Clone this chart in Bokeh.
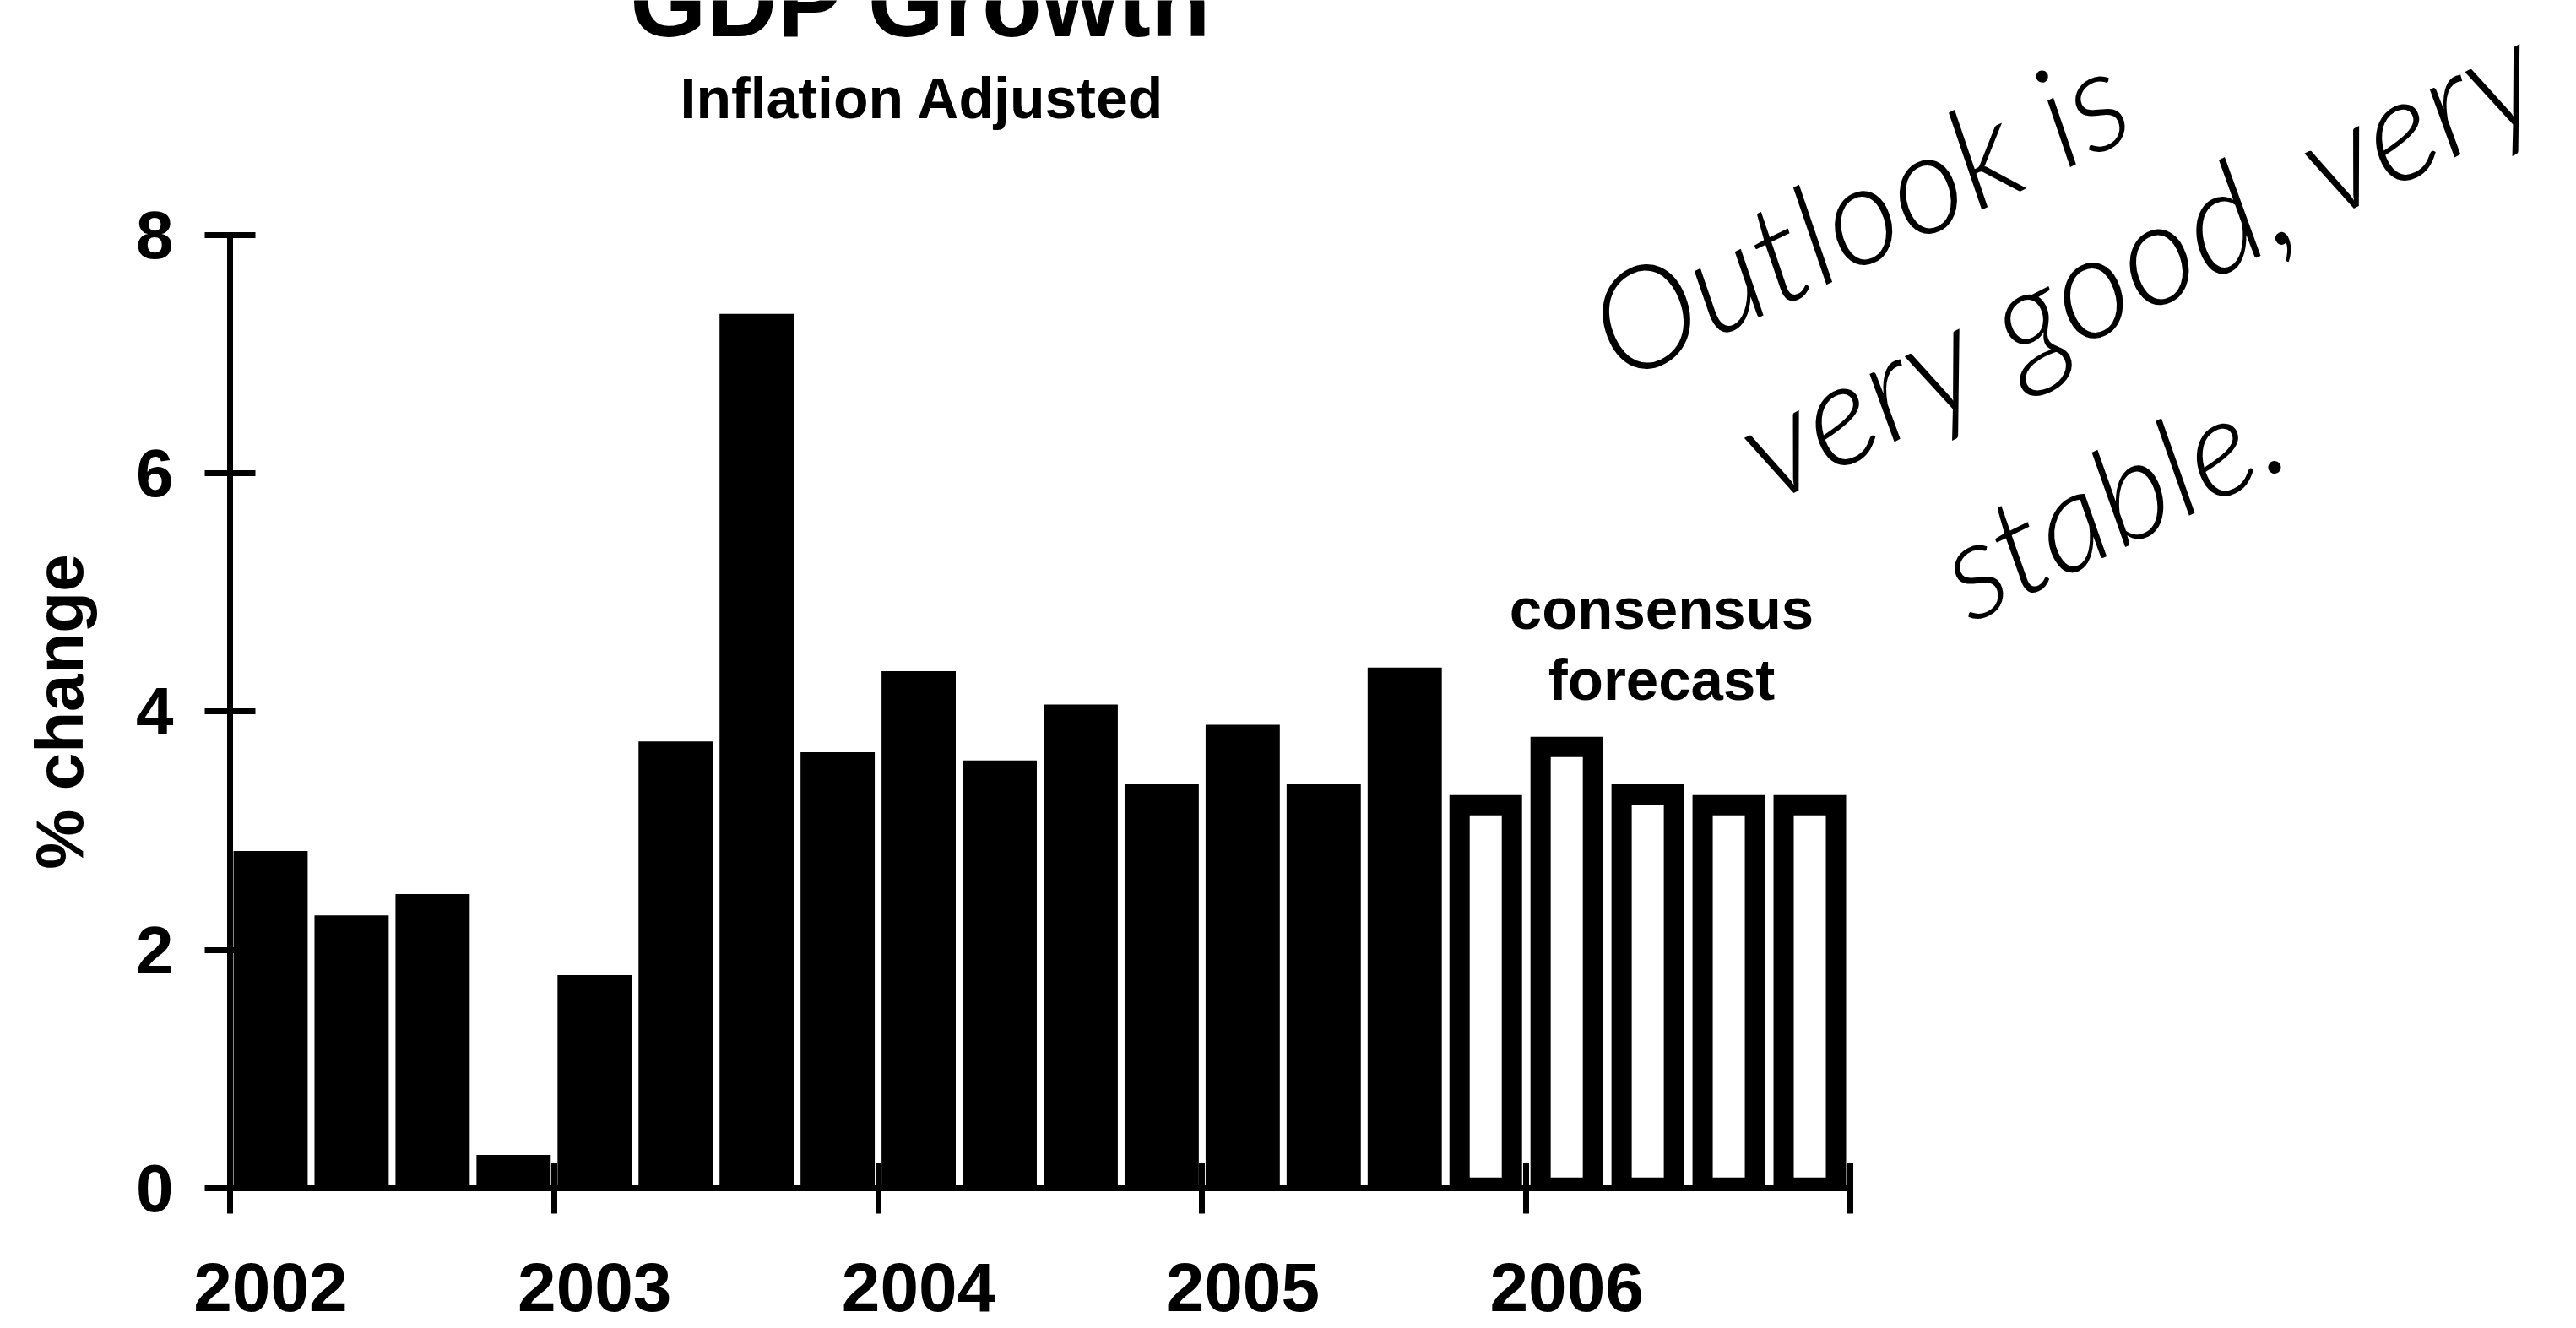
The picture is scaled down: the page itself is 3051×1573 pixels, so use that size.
from bokeh.plotting import figure
from bokeh.models import (Range1d, FixedTicker, Label, LinearAxis,
                          ColumnDataSource, CustomJSTickFormatter)
from bokeh.embed import file_html
from bokeh.resources import INLINE

# ---------------- data ----------------
quarters = ["2002 Q1", "2002 Q2", "2002 Q3", "2002 Q4",
            "2003 Q1", "2003 Q2", "2003 Q3", "2003 Q4",
            "2004 Q1", "2004 Q2", "2004 Q3", "2004 Q4",
            "2005 Q1", "2005 Q2", "2005 Q3", "2005 Q4",
            "2006 Q1", "2006 Q2", "2006 Q3", "2006 Q4"]
actual_growth = [2.83, 2.29, 2.47, 0.28,
                 1.79, 3.75, 7.34, 3.66,
                 4.34, 3.59, 4.06, 3.39,
                 3.89, 3.39, 4.37]
forecast_growth = [3.30, 3.79, 3.39, 3.30, 3.30]
year_ticks = [2002, 2003, 2004, 2005, 2006, 2007]
year_labels = ["2002", "2003", "2004", "2005", "2006"]
y_ticks = [0, 2, 4, 6, 8]

FONT = "Liberation Sans"
HAND = "Lato Light"


def qpos(label):
    yr, q = label.split(" Q")
    return int(yr) + (int(q) - 0.5) / 4.0


x_all = [qpos(q) for q in quarters]
n_act = len(actual_growth)
x_act = x_all[:n_act]
x_fc = x_all[n_act:]

# frame covers the whole canvas; axes are pinned at x=2002 / y=0
p = figure(width=3051, height=1573,
           x_range=Range1d(2001.2913, 2009.2408),
           y_range=Range1d(-1.1763, 9.9699),
           output_backend="svg", toolbar_location=None,
           x_axis_location=None, y_axis_location=None)
p.min_border = 0
p.title.visible = False
p.xgrid.visible = False
p.ygrid.visible = False
p.outline_line_color = None
p.background_fill_color = "white"
p.border_fill_color = "white"

# actual bars
src_act = ColumnDataSource(dict(x=x_act, top=actual_growth))
p.vbar(x="x", top="top", bottom=0, width=0.229, source=src_act,
       fill_color="black", line_color=None)

# forecast bars (thick black outline, white interior)
border_y = 0.17
src_fc = ColumnDataSource(dict(x=x_fc, top=forecast_growth,
                               inner=[v - border_y for v in forecast_growth]))
p.vbar(x="x", top="top", bottom=0, width=0.224, source=src_fc,
       fill_color="black", line_color=None)
p.vbar(x="x", top="inner", bottom=0.09, width=0.099, source=src_fc,
       fill_color="white", line_color=None)

# y axis
ya = LinearAxis(fixed_location=2002, bounds=(0, 8))
ya.ticker = FixedTicker(ticks=y_ticks)
ya.minor_tick_line_color = None
ya.major_tick_in = 30
ya.major_tick_out = 30
ya.major_tick_line_width = 7
ya.major_tick_line_color = "black"
ya.axis_line_width = 7
ya.axis_line_color = "black"
ya.major_label_text_font = FONT
ya.major_label_text_font_style = "bold"
ya.major_label_text_font_size = "80px"
ya.major_label_text_color = "black"
ya.major_label_standoff = 37
ya.axis_label = "% change"
ya.axis_label_text_font = FONT
ya.axis_label_text_font_style = "bold"
ya.axis_label_text_font_size = "80px"
ya.axis_label_text_color = "black"
ya.axis_label_standoff = 43
p.add_layout(ya, "left")

# x axis: tick marks at the year boundaries
xa = LinearAxis(fixed_location=0, bounds=(2002, 2007))
xa.ticker = FixedTicker(ticks=year_ticks)
xa.minor_tick_line_color = None
xa.major_tick_in = 30
xa.major_tick_out = 30
xa.major_tick_line_width = 7
xa.major_tick_line_color = "black"
xa.axis_line_width = 7
xa.axis_line_color = "black"
xa.major_label_text_color = None
p.add_layout(xa, "below")

# x axis: year labels, set a little right of each year boundary
xl = LinearAxis(fixed_location=0)
xl.ticker = FixedTicker(ticks=[int(s) + 0.125 for s in year_labels])
xl.formatter = CustomJSTickFormatter(code="return String(Math.round(tick - 0.125))")
xl.axis_line_color = None
xl.major_tick_line_color = None
xl.minor_tick_line_color = None
xl.major_tick_in = 0
xl.major_tick_out = 0
xl.major_label_standoff = 89
xl.major_label_text_font = FONT
xl.major_label_text_font_style = "bold"
xl.major_label_text_font_size = "82px"
xl.major_label_text_color = "black"
p.add_layout(xl, "below")

# titles
p.add_layout(Label(x=2004.1326, y=9.950, text="GDP Growth", text_color="black",
                   text_font=FONT, text_font_style="bold", text_font_size="116px",
                   text_align="center", text_baseline="alphabetic"))
p.add_layout(Label(x=2004.137, y=9.150, text="Inflation Adjusted", text_color="black",
                   text_font=FONT, text_font_style="bold", text_font_size="68px",
                   text_align="center", text_baseline="alphabetic"))

# forecast note
p.add_layout(Label(x=2006.4177, y=4.862, text="consensus", text_color="black",
                   text_font=FONT, text_font_style="bold", text_font_size="69px",
                   text_align="center", text_baseline="alphabetic"))
p.add_layout(Label(x=2006.4177, y=4.266, text="forecast", text_color="black",
                   text_font=FONT, text_font_style="bold", text_font_size="69px",
                   text_align="center", text_baseline="alphabetic"))

# handwritten remark
for tx, xx, yy, ang, fs in [("Outlook is", 2006.2180, 7.160, 0.45, "166px"),
                            ("very good, very", 2006.6780, 6.157, 0.47, "170px"),
                            ("stable.", 2007.2984, 5.134, 0.46, "162px")]:
    p.add_layout(Label(x=xx, y=yy, text=tx, angle=ang,
                       text_font=HAND, text_font_style="italic",
                       text_font_size=fs, text_align="left",
                       text_baseline="alphabetic", text_color="black"))

open("out.html", "w").write(file_html(p, INLINE))
